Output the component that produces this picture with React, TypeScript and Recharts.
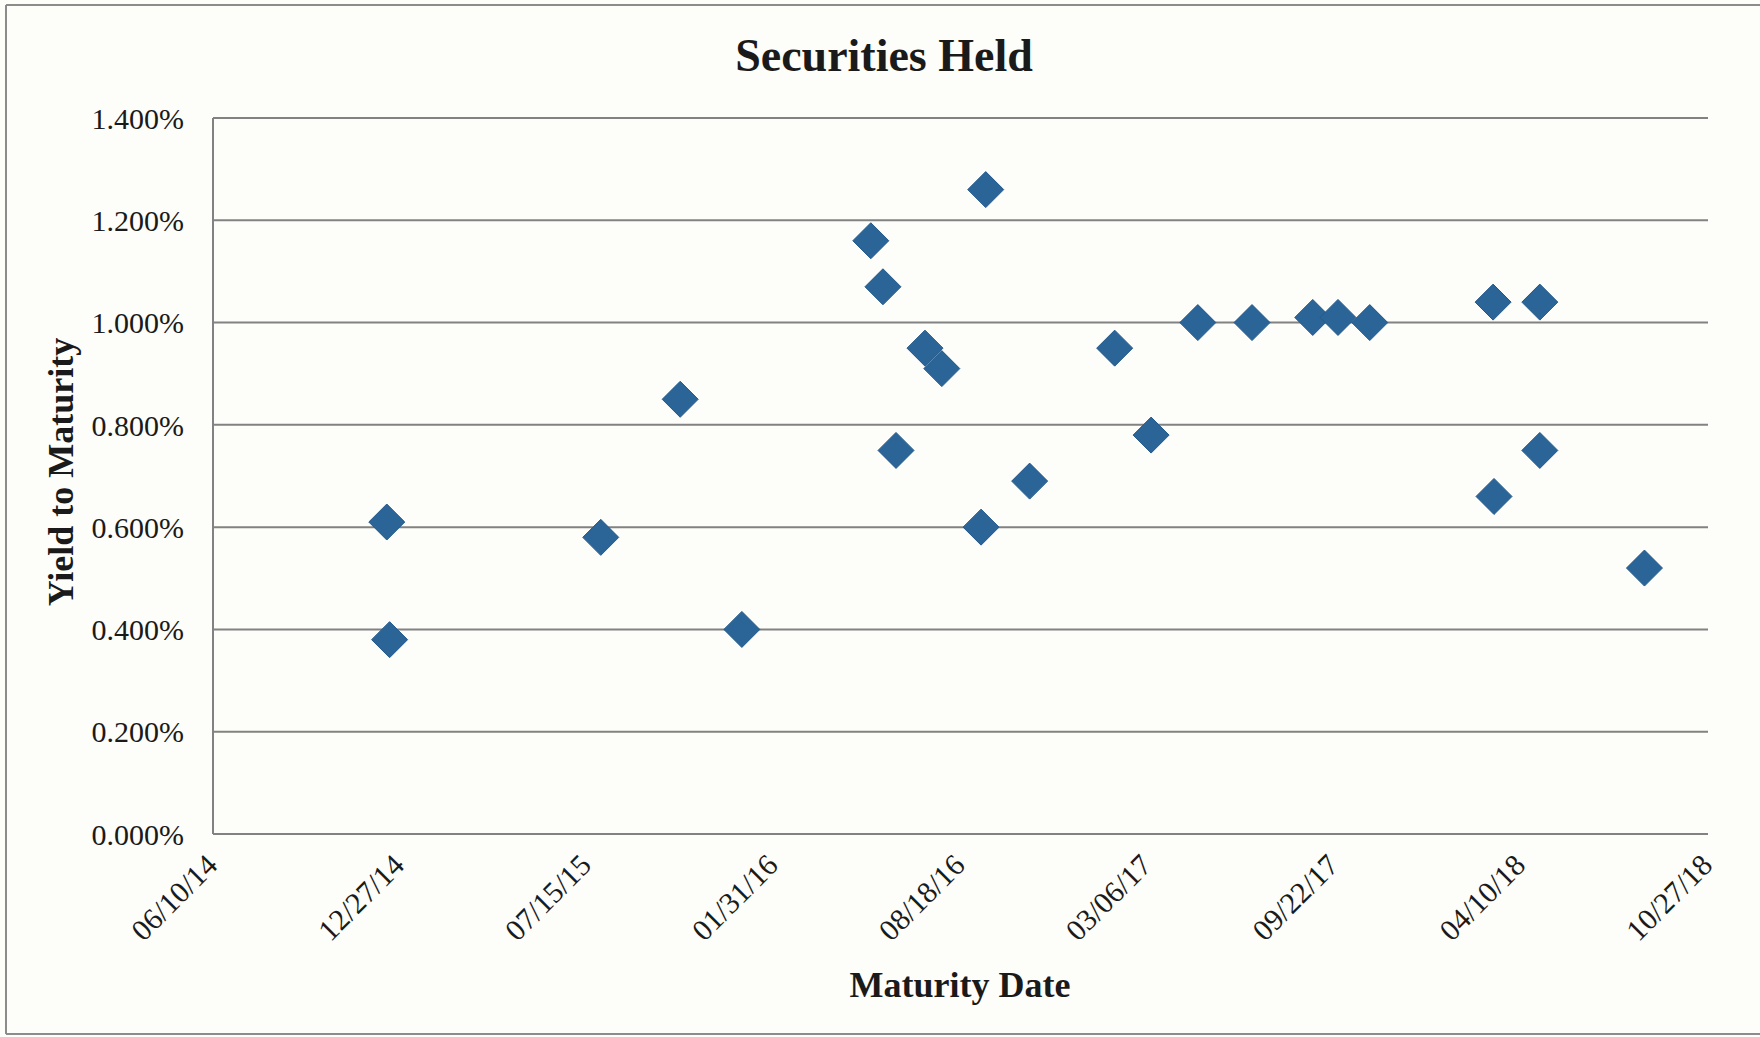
import React from "react";
import { ScatterChart, Scatter, XAxis, YAxis, CartesianGrid, Label } from "recharts";

// ---- data ----
const maturityDates = [
  "2014-12-13", "2014-12-16", "2015-07-30", "2015-10-23", "2015-12-28",
  "2016-05-14", "2016-05-27", "2016-06-10", "2016-07-11", "2016-07-29",
  "2016-09-09", "2016-09-14", "2016-10-31", "2017-01-30", "2017-03-10",
  "2017-04-29", "2017-06-26", "2017-08-30", "2017-09-26", "2017-10-30",
  "2018-03-11", "2018-03-12", "2018-04-30", "2018-04-30", "2018-08-20",
];
const yieldsPct = [
  0.61, 0.38, 0.58, 0.85, 0.40,
  1.16, 1.07, 0.75, 0.95, 0.91,
  0.60, 1.26, 0.69, 0.95, 0.78,
  1.00, 1.00, 1.01, 1.01, 1.00,
  1.04, 0.66, 1.04, 0.75, 0.52,
];
const xTickLabels = [
  "06/10/14", "12/27/14", "07/15/15", "01/31/16", "08/18/16",
  "03/06/17", "09/22/17", "04/10/18", "10/27/18",
];
const yTicks = [0, 0.2, 0.4, 0.6, 0.8, 1.0, 1.2, 1.4];
const yTickLabels = ["0.000%", "0.200%", "0.400%", "0.600%", "0.800%", "1.000%", "1.200%", "1.400%"];

const chartTitle = "Securities Held";
const xTitle = "Maturity Date";
const yTitle = "Yield to Maturity";

// ---- helpers ----
const DAY = 86400000;
const isoToDay = (iso: string) => Math.round(Date.parse(iso + "T00:00:00Z") / DAY);
const mdyToDay = (s: string) => {
  const [m, d, y] = s.split("/").map(Number);
  return Math.round(Date.UTC(2000 + y, m - 1, d) / DAY);
};

const xTicks = xTickLabels.map(mdyToDay);
const data = maturityDates.map((d, i) => ({ day: isoToDay(d), ytm: yieldsPct[i] }));

const FONT = "'Liberation Serif', 'Times New Roman', serif";
const GRID = "#828282";
const MARK = "#2b6497";

const XTick = (props: any) => {
  const { x, y, payload } = props;
  const idx = xTicks.indexOf(payload.value);
  const label = idx >= 0 ? xTickLabels[idx] : "";
  const ax = x + 6;
  const ay = y + 33;
  return (
    <text
      x={ax}
      y={ay}
      transform={`rotate(-45 ${ax} ${ay})`}
      textAnchor="end"
      fontFamily={FONT}
      fontSize={30}
      fill="#1a1a1a"
    >
      {label}
    </text>
  );
};

const Diamond = (props: any) => {
  const { cx, cy } = props;
  const r = 18;
  return (
    <polygon
      points={`${cx},${cy - r} ${cx + r},${cy} ${cx},${cy + r} ${cx - r},${cy}`}
      fill={MARK}
      stroke="#245a8c"
      strokeWidth={1}
    />
  );
};

export default function App() {
  return (
    <div
      style={{
        position: "absolute",
        left: 0,
        top: 0,
        width: 1760,
        height: 1037,
        background: "#fdfdf9",
        fontFamily: FONT,
      }}
    >
      <ScatterChart
        width={1760}
        height={1037}
        margin={{ top: 118, right: 52, bottom: 0, left: 0 }}
      >
        <CartesianGrid horizontal vertical={false} stroke={GRID} strokeWidth={2} />
        <XAxis
          type="number"
          dataKey="day"
          domain={[xTicks[0], xTicks[xTicks.length - 1]]}
          ticks={xTicks}
          interval={0}
          height={203}
          tickLine={false}
          tickSize={0}
          tickMargin={0}
          axisLine={{ stroke: GRID, strokeWidth: 2 }}
          tick={<XTick />}
        >
          <Label
            content={() => (
              <text
                x={960}
                y={997}
                textAnchor="middle"
                fontFamily={FONT}
                fontSize={36}
                fontWeight="bold"
                fill="#1a1a1a"
              >
                {xTitle}
              </text>
            )}
          />
        </XAxis>
        <YAxis
          type="number"
          dataKey="ytm"
          domain={[0, 1.4]}
          ticks={yTicks}
          interval={0}
          width={213}
          tickLine={false}
          tickSize={0}
          tickMargin={29}
          axisLine={{ stroke: GRID, strokeWidth: 2 }}
          tickFormatter={(v: number) => yTickLabels[yTicks.findIndex((t) => Math.abs(t - v) < 1e-9)] ?? ""}
          tick={{ fill: "#1a1a1a", fontSize: 30, fontFamily: FONT }}
        >
          <Label
            content={() => (
              <text
                x={73}
                y={472}
                transform="rotate(-90 73 472)"
                textAnchor="middle"
                fontFamily={FONT}
                fontSize={36}
                fontWeight="bold"
                fill="#1a1a1a"
              >
                {yTitle}
              </text>
            )}
          />
        </YAxis>
        <Scatter data={data} shape={<Diamond />} isAnimationActive={false} />
      </ScatterChart>
      <svg
        width={1760}
        height={1037}
        style={{ position: "absolute", left: 0, top: 0, pointerEvents: "none" }}
      >
        <line x1={6} y1={5} x2={1760} y2={5} stroke="#8c8c8c" strokeWidth={2} />
        <line x1={6} y1={5} x2={6} y2={1034} stroke="#8c8c8c" strokeWidth={2} />
        <line x1={6} y1={1034} x2={1760} y2={1034} stroke="#8c8c8c" strokeWidth={2} />
        <text
          x={884}
          y={71}
          textAnchor="middle"
          fontFamily={FONT}
          fontSize={46}
          fontWeight="bold"
          fill="#1a1a1a"
        >
          {chartTitle}
        </text>
      </svg>
    </div>
  );
}
